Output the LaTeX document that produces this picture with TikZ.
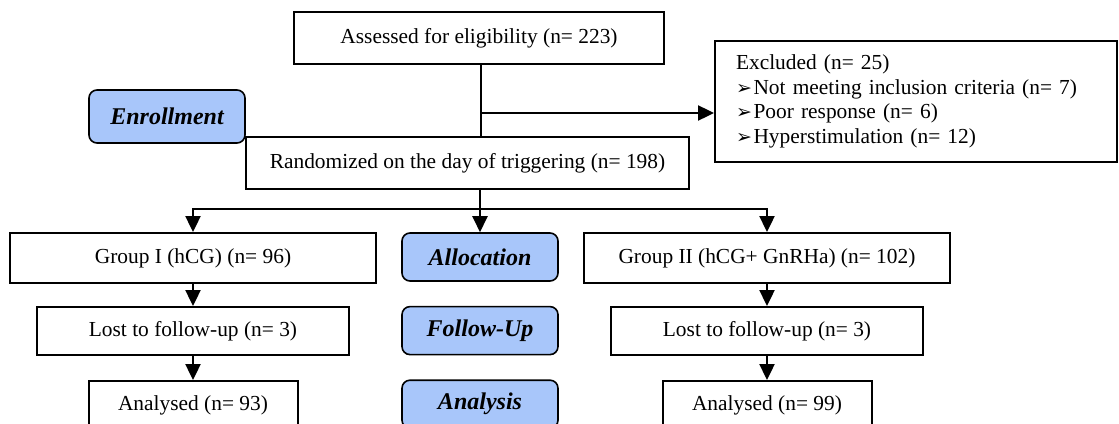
\documentclass[tikz,border=0pt]{standalone}
\usepackage{fontspec}
\setmainfont{Liberation Serif}
\newfontfamily\tipfont{DejaVu Sans}
\usetikzlibrary{arrows.meta,positioning}
\definecolor{stagefill}{RGB}{168,198,250}
\tikzstyle{box}=[rectangle,draw=black,line width=1pt,inner sep=0pt,minimum height=24pt,font=\fontsize{10.7}{12.35}\selectfont]
\tikzstyle{stage}=[rectangle,rounded corners=4pt,draw=black,line width=0.8pt,fill=stagefill,inner sep=0pt,minimum width=78pt,minimum height=24pt,font=\fontsize{12}{14}\selectfont\bfseries\itshape]
\tikzstyle{flow}=[-{Triangle[length=8pt,width=7.5pt]},line width=1.2pt]
\tikzstyle{link}=[line width=1.2pt]
\newcommand{\tip}{{\tipfont\fontsize{9.5}{9.5}\selectfont ➢}\hspace{0.8pt}}

\begin{document}
\begin{tikzpicture}[x=0.5pt,y=-0.5pt]
    \useasboundingbox (0,0) rectangle (1119,423);

    % Kaesten
    \node[box, minimum width=185pt, minimum height=26pt] (assess) at (479,38) {Assessed for eligibility (n= 223)};
    \node[box, minimum width=201pt, minimum height=60.5pt, text width=180pt, inner xsep=10.5pt, align=left] (excl) at (916,101.5) {Excluded (n= 25)\\ \tip Not meeting inclusion criteria (n= 7)\\ \tip Poor response (n= 6)\\ \tip Hyperstimulation (n= 12)};
    \node[stage, minimum height=26.5pt] (enrol) at (167,116.5) {Enrollment};
    \node[box, minimum width=221.5pt, minimum height=26pt] (rand) at (467.5,163) {Randomized on the day of triggering (n= 198)};

    \node[box, minimum width=183pt, minimum height=25pt] (grp1) at (193,258) {Group I (hCG) (n= 96)};
    \node[box, minimum width=156pt] (lost1) [below=11pt of grp1] {Lost to follow-up (n= 3)};
    \node[box, minimum width=104.5pt] (ana1) [below=12pt of lost1] {Analysed (n= 93)};

    \node[stage] (alloc) at (480,257) {Allocation};
    \node[stage] (follow) [below=12pt of alloc] {Follow-Up};
    \node[stage] (analys) [below=12pt of follow] {Analysis};

    \node[box, minimum width=183pt, minimum height=25pt] (grp2) at (767,258) {Group II (hCG+ GnRHa) (n= 102)};
    \node[box, minimum width=156pt] (lost2) [below=11pt of grp2] {Lost to follow-up (n= 3)};
    \node[box, minimum width=104.5pt] (ana2) [below=12pt of lost2] {Analysed (n= 99)};

    % Pfeile
    \coordinate (split) at (481,113);
    \coordinate (fork) at (480,209);
    \draw [link] (assess.south -| split) -- (rand.north -| split);
    \draw [flow] (split) -- (split -| excl.west);
    \draw [flow] (rand.south -| alloc.north) -- (alloc.north);
    \draw [flow] (fork) -| (grp1.north);
    \draw [flow] (fork) -| (grp2.north);
    \draw [flow] (grp1) -- (lost1);
    \draw [flow] (lost1) -- (ana1);
    \draw [flow] (grp2) -- (lost2);
    \draw [flow] (lost2) -- (ana2);

\end{tikzpicture}
\end{document}
